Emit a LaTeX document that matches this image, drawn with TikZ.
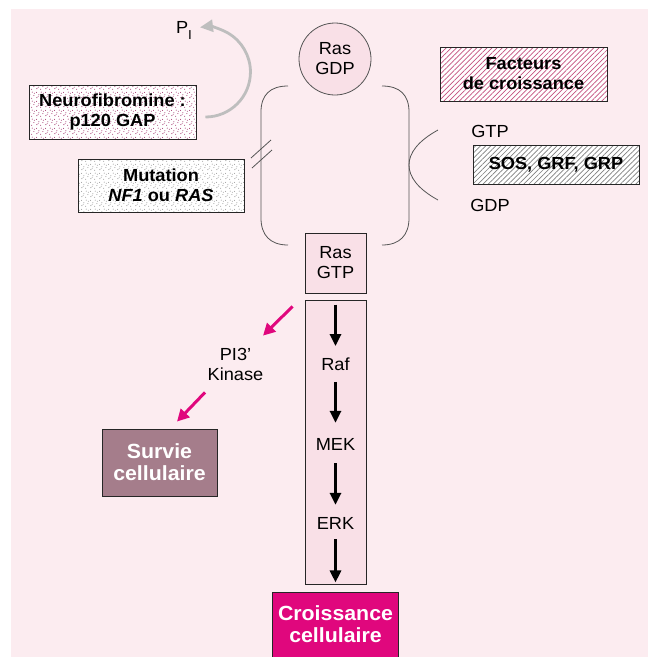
\documentclass[tikz,border=0pt]{standalone}
\usepackage{fontspec}
\setmainfont{Liberation Sans}[FakeStretch=1.04]
\usetikzlibrary{patterns.meta,arrows.meta,calc}
\definecolor{bgpink}{HTML}{FCECF0}
\definecolor{boxpink}{HTML}{F9E0E7}
\definecolor{mag}{HTML}{E0077D}
\definecolor{mauve}{HTML}{A57D8B}
\definecolor{hatchpink}{HTML}{C4507E}
\definecolor{dotpink}{HTML}{A0306A}
\definecolor{arcgray}{HTML}{BEBEBE}
\definecolor{linegray}{HTML}{555555}
\tikzdeclarepattern{
  name=sdots,
  type=uncolored,
  bounding box={(0pt,0pt) and (9pt,9pt)},
  tile size={(9pt,9pt)},
  code={
    \fill (1pt,1.5pt) circle[radius=0.6pt];
    \fill (5pt,0.8pt) circle[radius=0.55pt];
    \fill (3.2pt,4.6pt) circle[radius=0.6pt];
    \fill (7.6pt,3.8pt) circle[radius=0.55pt];
    \fill (0.6pt,7.2pt) circle[radius=0.55pt];
    \fill (5.8pt,7.6pt) circle[radius=0.6pt];
    \fill (8.2pt,6.3pt) circle[radius=0.5pt];
    \fill (2.4pt,2.9pt) circle[radius=0.5pt];
  }
}
\begin{document}
\begin{tikzpicture}[x=1pt,y=-1pt,
  every node/.style={inner sep=0pt, font=\fontsize{17.5}{20}\selectfont, align=center},
  frame/.style={draw=black!85, line width=0.9pt, rectangle},
  bold/.style={font=\fontsize{17.5}{20}\selectfont\bfseries},
  wbold/.style={font=\fontsize{20.5}{22}\selectfont\bfseries, text=white},
  stage/.style={text height=12.5pt, text depth=0pt},
  bracket/.style={draw=linegray, line width=0.8pt},
  arr/.style={-{Triangle[length=12pt,width=11pt]}, line width=3pt, black},
  marr/.style={-{Triangle[length=12pt,width=12pt]}, line width=3pt, mag},
  grayarr/.style={-{Triangle[length=13pt,width=12pt]}, line width=2.8pt, arcgray},
  dotbox/.style={frame, preaction={fill=white}, pattern=sdots},
  hatchbox/.style={frame, preaction={fill=white}, pattern={Lines[angle=45,distance=3.6pt,line width=0.7pt]}}
]
\useasboundingbox (0,0) rectangle (648,657);
\fill[white] (0,0) rectangle (648,657);
\fill[bgpink] (11,9) rectangle (648,657);

% nodes
\node[circle, draw=linegray, fill=boxpink, minimum size=72pt, line width=0.8pt] (rasgdp) at (335,59) {Ras\\GDP};
\node[dotbox, pattern color=dotpink, minimum width=167pt, minimum height=54pt, bold] (neuro) at (112.5,112) {Neurofibromine :\\p120 GAP};
\node[dotbox, pattern color=gray!80, minimum width=166pt, minimum height=53pt, bold] (mut) at (161,185.5) {Mutation\\\textit{NF1} ou \textit{RAS}};
\node[hatchbox, pattern color=hatchpink, minimum width=167pt, minimum height=54pt, bold] (fact) at (523.5,74) {Facteurs\\de croissance};
\node[hatchbox, pattern color=gray, minimum width=166pt, minimum height=39pt, bold] (sos) at (556,164.5) {SOS, GRF, GRP};
\node (pi) at (184,30) {P\raisebox{-6pt}{\fontsize{13}{13}\selectfont I}};
\node[stage] (gtp) at (490,131) {GTP};
\node[stage] (gdp) at (490,205) {GDP};
\node[frame, fill=boxpink, minimum width=61pt, minimum height=60pt] (rasgtp) at (335.5,263) {Ras\\GTP};
\node[frame, fill=boxpink, minimum width=61pt, minimum height=284pt] (casc) at (335.5,442) {};
\node[stage] (raf) at (335.5,364.5) {Raf};
\node[stage] (mek) at (335.5,444) {MEK};
\node[stage] (erk) at (335.5,523) {ERK};
\node (pi3k) at (235.5,364) {PI3'\\Kinase};
\node[frame, fill=mauve, minimum width=115pt, minimum height=67pt, wbold] (survie) at (159.5,462.5) {Survie\\cellulaire};
\node[fill=mag, minimum width=125pt, minimum height=62pt, wbold] (croiss) at (335.5,624) {Croissance\\cellulaire};
\fill[mag] (croiss.south west) rectangle ($(croiss.south east)+(0,10)$);
\draw[frame] ($(croiss.south west)+(0,10)$) -- (croiss.north west) -- (croiss.north east) -- ($(croiss.south east)+(0,10)$);

% brackets
\draw[bracket] (288,86) .. controls (270,86) and (261,95) .. (261,112) -- (261,218) .. controls (261,235) and (270,245) .. (288,245);
\draw[bracket] (382,86) .. controls (400,86) and (409,95) .. (409,112) -- (409,218) .. controls (409,235) and (400,245) .. (382,245);
\draw[bracket] (438,130) .. controls (418,141) and (409,153) .. (409,165) .. controls (409,177) and (418,189) .. (438,200);
\draw[bracket] (251,158) -- (271,140);
\draw[bracket] (252,168) -- (272,150);

% gray arc
\draw[grayarr] ($(neuro.east)+(9,5)$) arc[start angle=90, end angle=-97, radius=45];

% cascade arrows
\draw[arr, shorten <=5pt, shorten >=12pt] (casc.north) -- (raf.north);
\draw[arr, shorten <=11pt, shorten >=14.75pt] (raf.south) -- (mek.north);
\draw[arr, shorten <=12.75pt, shorten >=11.75pt] (mek.south) -- (erk.north);
\draw[arr, shorten <=9.75pt, shorten >=2pt] (erk.south) -- (casc.south);

% magenta arrows
\draw[marr] ($(rasgtp.south west)+(-12,13)$) -- ($(pi3k.north)+(27.5,-12)$);
\draw[marr] ($(pi3k.south)+(-30.5,12)$) -- ($(survie.north)+(17.5,-7)$);
\end{tikzpicture}
\end{document}
